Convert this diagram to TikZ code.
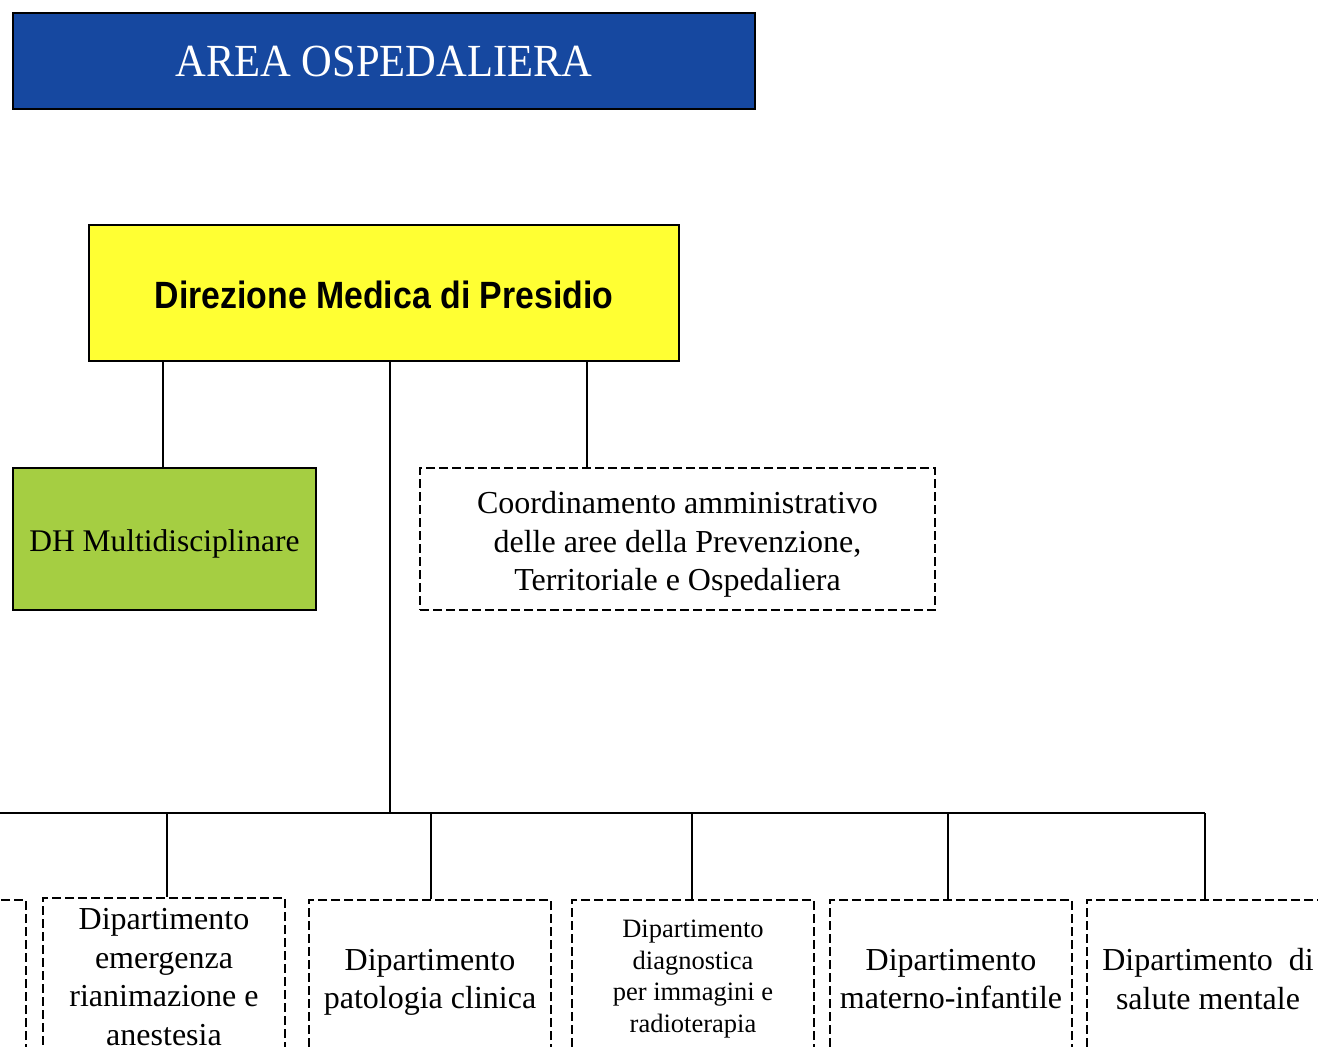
\documentclass[tikz,border=0pt]{standalone}
\usepackage{fontspec}
\setmainfont{Liberation Serif}
\newfontfamily\narrowsans[FakeStretch=0.89]{Liberation Sans}
\newfontfamily\hdrfont[FakeStretch=0.925]{Liberation Serif}
\definecolor{hdrblue}{RGB}{22,72,160}
\definecolor{diryellow}{RGB}{255,255,51}
\definecolor{dhgreen}{RGB}{165,206,66}
\tikzset{
  plainbox/.style={draw=black, line width=2pt, inner sep=0pt, align=center, anchor=north west},
  dashbox/.style={draw=black, line width=2pt, dash pattern=on 9pt off 4pt, inner sep=0pt, align=center, anchor=north west, minimum width=242pt, minimum height=158pt},
  conn/.style={draw=black, line width=2pt},
  big/.style={font=\fontsize{32}{38.5}\selectfont},
  small/.style={font=\fontsize{26.5}{31.5}\selectfont}
}
\begin{document}
\begin{tikzpicture}[x=1pt,y=-1pt]
\useasboundingbox (0,0) rectangle (1318,1047);
\fill[white] (0,0) rectangle (1318,1047);
\clip (0,0) rectangle (1318,1047);

% header
\node[plainbox, fill=hdrblue, minimum width=742pt, minimum height=96pt,
      text=white, font=\hdrfont\fontsize{46}{50}\selectfont] (hdr) at (12,12) {AREA OSPEDALIERA};

% direzione
\node[plainbox, fill=diryellow, minimum width=590pt, minimum height=136pt,
      font=\narrowsans\bfseries\fontsize{38}{44}\selectfont] (dir) at (88,224) {\rule{0pt}{31pt}Direzione Medica di Presidio};

% DH
\node[plainbox, fill=dhgreen, minimum width=303pt, minimum height=142pt,
      font=\fontsize{31.5}{37}\selectfont] (dh) at (12,467) {\rule{0pt}{32pt}DH Multidisciplinare};

% coordinamento
\node[dashbox, big, minimum width=515pt, minimum height=142pt] (co) at (419,467)
  {\rule{0pt}{33pt}Coordinamento amministrativo\\delle aree della Prevenzione,\\Territoriale e Ospedaliera};

% bottom boxes
\node[dashbox] (b0) at (-217,899) {};
\node[dashbox, big] (b1) at (42,897) {Dipartimento\\emergenza\\rianimazione e\\anestesia};
\node[dashbox, big] (b2) at (308,899) {\rule{0pt}{28pt}Dipartimento\\patologia clinica};
\node[dashbox, small] (b3) at (571,899) {Dipartimento\\diagnostica\\per immagini e\\radioterapia};
\node[dashbox, big] (b4) at (829,899) {Dipartimento\\materno-infantile};
\node[dashbox, big] (b5) at (1086,899) {Dipartimento\ \ di\\salute mentale};

% junction coordinates
\coordinate (cl) at (163,0);
\coordinate (cr) at (587,0);
\coordinate (mj) at (390,813);
\coordinate (j1) at (167,813);
\coordinate (j2) at (431,813);
\coordinate (j3) at (692,813);
\coordinate (j4) at (948,813);
\coordinate (j5) at (1205,813);

% connectors
\draw[conn] (cl |- dir.south) -- (cl |- dh.north);
\draw[conn] (cr |- dir.south) -- (cr |- co.north);
\draw[conn] (mj |- dir.south) -- (mj);
\draw[conn] (b0.north |- mj) -- (j5);
\draw[conn] (b0.north |- mj) -- (b0.north);
\draw[conn] (j1) -- (j1 |- b1.north);
\draw[conn] (j2) -- (j2 |- b2.north);
\draw[conn] (j3) -- (j3 |- b3.north);
\draw[conn] (j4) -- (j4 |- b4.north);
\draw[conn] (j5) -- (j5 |- b5.north);
\end{tikzpicture}
\end{document}
